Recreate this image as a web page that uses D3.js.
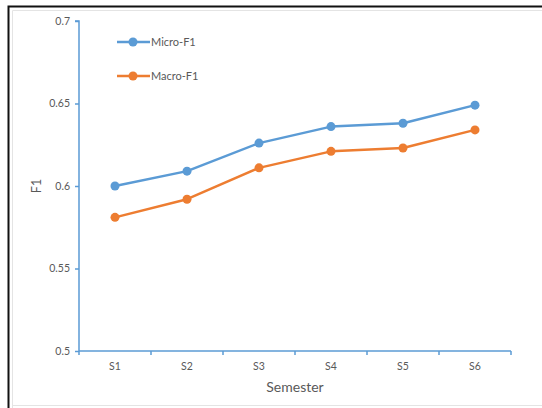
<!DOCTYPE html>
<html>
<head>
<meta charset="utf-8">
<script src="https://cdn.jsdelivr.net/npm/d3@7"></script>
<style>
  html, body { margin: 0; padding: 0; background: #fff; }
  svg { display: block; }
  text { font-family: Lato, "Open Sans", sans-serif; }
</style>
</head>
<body>
<svg id="chart" width="542" height="408"></svg>
<script>
// F1 scores per semester
const semesters = ["S1", "S2", "S3", "S4", "S5", "S6"];
const microF1 = [0.600, 0.609, 0.626, 0.636, 0.638, 0.649];
const macroF1 = [0.581, 0.592, 0.611, 0.621, 0.623, 0.634];
const yTicks = [0.5, 0.55, 0.6, 0.65, 0.7];
const seriesNames = ["Micro-F1", "Macro-F1"];
const seriesColors = ["#5B9BD5", "#ED7D31"];

const svg = d3.select("#chart");
const W = 542, H = 408;

// outer frame
svg.append("rect").attr("x", 0).attr("y", 0).attr("width", W).attr("height", H).attr("fill", "#fff");
svg.append("path").attr("d", `M8.5,${H} V6.5 H${W}`).attr("fill", "none").attr("stroke", "#111").attr("stroke-width", 2);
svg.append("path").attr("d", `M12.5,${H} V10.5 H${W}`).attr("fill", "none").attr("stroke", "#e4e4e4").attr("stroke-width", 1);
svg.append("line").attr("x1", 12).attr("x2", W).attr("y1", 405.5).attr("y2", 405.5).attr("stroke", "#e4e4e4");

const plot = { left: 79, right: 511, top: 21, bottom: 351 };

const x = d3.scaleBand().domain(semesters).range([plot.left, plot.right]);
const y = d3.scaleLinear().domain([0.5, 0.7]).range([plot.bottom, plot.top]);

const axisColor = "#5B9BD5";
const labelColor = "#595959";

// y axis
const yAxis = svg.append("g").attr("transform", `translate(${plot.left},0)`)
  .call(d3.axisLeft(y).tickValues(yTicks).tickSize(4).tickPadding(5).tickFormat(d => String(+d.toFixed(2))));
yAxis.select(".domain").attr("stroke", axisColor).attr("stroke-width", 1.5).attr("d", `M-4,${plot.top}H0V${plot.bottom}`);
yAxis.selectAll(".tick line").attr("stroke", axisColor).attr("stroke-width", 1.5);
yAxis.selectAll(".tick text").attr("fill", labelColor).attr("font-size", 10.5);

// x axis with ticks at category boundaries
const xAxis = svg.append("g").attr("transform", `translate(0,${plot.bottom})`)
  .call(d3.axisBottom(x).tickSize(0).tickPadding(12));
xAxis.select(".domain").attr("stroke", axisColor).attr("stroke-width", 1.5).attr("d", `M${plot.left},0H${plot.right}`);
xAxis.selectAll(".tick text").attr("fill", labelColor).attr("font-size", 10.5);
const bounds = semesters.map(s => x(s)).concat([x.range()[1]]);
xAxis.selectAll("line.bound").data(bounds).join("line").attr("class", "bound")
  .attr("x1", d => d).attr("x2", d => d).attr("y1", 0).attr("y2", 4)
  .attr("stroke", axisColor).attr("stroke-width", 1.5);

// axis titles
svg.append("text").attr("x", (plot.left + plot.right) / 2).attr("y", 392)
  .attr("text-anchor", "middle").attr("fill", labelColor).attr("font-size", 14).text("Semester");
svg.append("text").attr("transform", `translate(41,${y(0.6)}) rotate(-90)`)
  .attr("text-anchor", "middle").attr("fill", labelColor).attr("font-size", 12.5).text("F1");

// series lines and markers
const line = d3.line().x((d, i) => x(semesters[i]) + x.bandwidth() / 2).y(d => y(d));
[microF1, macroF1].forEach((vals, k) => {
  svg.append("path").datum(vals).attr("d", line).attr("fill", "none")
    .attr("stroke", seriesColors[k]).attr("stroke-width", 2.5).attr("stroke-linejoin", "round");
  svg.append("g").selectAll("circle").data(vals).join("circle")
    .attr("cx", (d, i) => x(semesters[i]) + x.bandwidth() / 2).attr("cy", d => y(d))
    .attr("r", 4.5).attr("fill", seriesColors[k]);
});

// legend
const legend = svg.append("g");
seriesNames.forEach((name, k) => {
  const ly = 42 + k * 34;
  legend.append("line").attr("x1", 117).attr("x2", 150).attr("y1", ly).attr("y2", ly)
    .attr("stroke", seriesColors[k]).attr("stroke-width", 2.5);
  legend.append("circle").attr("cx", 133).attr("cy", ly).attr("r", 4.5).attr("fill", seriesColors[k]);
  legend.append("text").attr("x", 151).attr("y", ly + 4).attr("fill", labelColor)
    .attr("font-size", 11).text(name);
});
</script>
</body>
</html>
